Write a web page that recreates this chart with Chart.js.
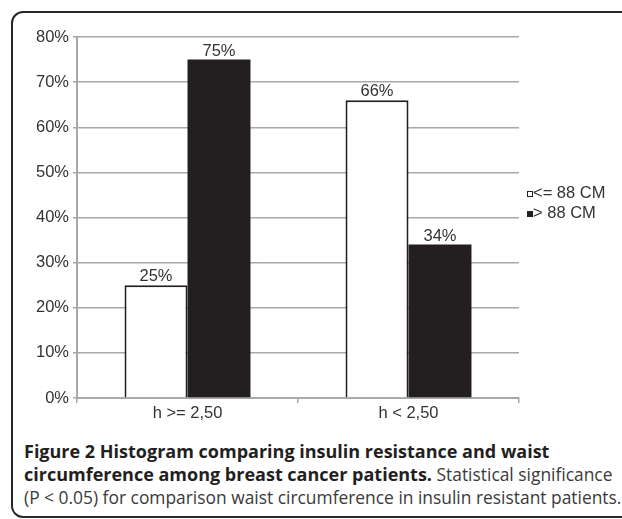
<!DOCTYPE html>
<html>
<head>
<meta charset="utf-8">
<script src="https://cdn.jsdelivr.net/npm/chart.js@4.4.0/dist/chart.umd.min.js"></script>
<style>
	html, body { margin: 0; padding: 0; background: #fff; }
	body { width: 622px; height: 519px; position: relative; overflow: hidden; }
	.frame {
		position: absolute; left: 11px; top: 11px; width: 640px; height: 503px;
		border: 2px solid #2a2728; border-radius: 12px;
	}
	.chart-box { position: absolute; left: 0; top: 0; width: 622px; height: 432px; }
	.caption {
		position: absolute; left: 24px; top: 440px; white-space: nowrap;
		font-family: "Open Sans", sans-serif; font-size: 17.4px; line-height: 23px; color: #3a3a3a;
	}
	.caption b { color: #231f20; font-size: 18px; }
</style>
</head>
<body>
<div class="frame"></div>
<div class="chart-box"><canvas id="chart-waist-insulin"></canvas></div>
<div class="caption">
	<b>Figure 2 Histogram comparing insulin resistance and waist</b><br>
	<b>circumference among breast cancer patients.</b> Statistical significance<br>
	(P &lt; 0.05) for comparison waist circumference in insulin resistant patients.
</div>
<script>
// Chart data
const CATEGORIES = ["h >= 2,50", "h < 2,50"];
const SERIES_LABELS = ["<= 88 CM", "> 88 CM"];
const WAIST_LOW = [25, 66];
const WAIST_HIGH = [75, 34];
const Y_TICKS = [0, 10, 20, 30, 40, 50, 60, 70, 80];

const DARK = "#231f20";
const GRID = "#a8a8a8";
const FONT_CSS = "16.5px 'Liberation Sans', Arial, sans-serif";
const FONT = { family: "'Liberation Sans', Arial, sans-serif", size: 16.5 };

// Value labels above every bar
const barLabels = {
	id: "barLabels",
	afterDatasetsDraw(chart) {
		const { ctx } = chart;
		ctx.save();
		ctx.font = FONT_CSS;
		ctx.fillStyle = "#333";
		ctx.textAlign = "center";
		ctx.textBaseline = "alphabetic";
		chart.data.datasets.forEach((ds, i) => {
			chart.getDatasetMeta(i).data.forEach((bar, j) => {
				ctx.fillText(ds.data[j] + "%", bar.x, bar.y - 4);
			});
		});
		ctx.restore();
	},
};

// Small square-marker legend on the right
const sideLegend = {
	id: "sideLegend",
	afterDraw(chart) {
		const { ctx } = chart;
		ctx.save();
		ctx.font = FONT_CSS;
		ctx.textBaseline = "alphabetic";
		chart.data.datasets.forEach((ds, i) => {
			const base = 198 + i * 20;
			ctx.fillStyle = ds.backgroundColor;
			ctx.strokeStyle = DARK;
			ctx.lineWidth = 1;
			ctx.fillRect(527.5, base - 6.5, 5, 5);
			ctx.strokeRect(527.5, base - 6.5, 5, 5);
			ctx.fillStyle = "#333";
			ctx.fillText(ds.label, 533, base);
		});
		ctx.restore();
	},
};

const CHART_CONFIG = {
	type: "bar",
	data: {
		labels: CATEGORIES,
		datasets: [
			{
				label: SERIES_LABELS[0],
				data: WAIST_LOW,
				backgroundColor: "#ffffff",
				borderColor: DARK,
				borderWidth: 2,
				categoryPercentage: 0.57,
				barPercentage: 1,
			},
			{
				label: SERIES_LABELS[1],
				data: WAIST_HIGH,
				backgroundColor: DARK,
				borderColor: DARK,
				borderWidth: 0,
				categoryPercentage: 0.57,
				barPercentage: 1,
			},
		],
	},
	options: {
		responsive: true,
		maintainAspectRatio: false,
		animation: false,
		layout: { padding: { top: 37, right: 103, left: 0, bottom: 0 } },
		scales: {
			x: {
				border: { color: GRID, width: 2 },
				grid: { drawOnChartArea: false, drawTicks: true, tickLength: 5, color: GRID, lineWidth: 1.5 },
				ticks: { color: "#333", font: FONT, padding: 1 },
				afterFit: (scale) => { scale.height = 34; },
			},
			y: {
				min: 0,
				max: 80,
				afterBuildTicks: (scale) => { scale.ticks = Y_TICKS.map((v) => ({ value: v })); },
				border: { color: GRID, width: 2 },
				grid: { color: GRID, lineWidth: 1.5, tickLength: 4 },
				ticks: { color: "#333", font: FONT, padding: 4, callback: (v) => v + "%" },
				afterFit: (scale) => { scale.width = 77; },
			},
		},
		plugins: {
			legend: { display: false },
			tooltip: { enabled: false },
		},
	},
	plugins: [barLabels, sideLegend],
};

new Chart(document.getElementById("chart-waist-insulin"), CHART_CONFIG);
</script>
</body>
</html>
